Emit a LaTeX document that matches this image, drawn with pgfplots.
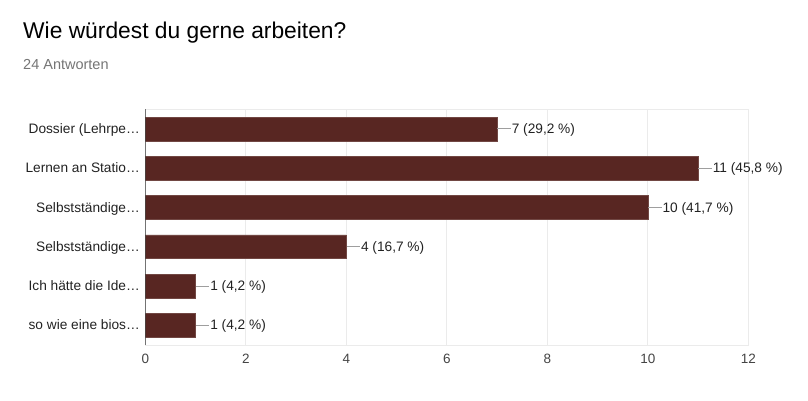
\documentclass[border=0pt]{standalone}
\usepackage{pgfplots}
\pgfplotsset{compat=1.18}
\usepackage{fontspec}
\setmainfont{Liberation Sans}
\definecolor{barbrown}{RGB}{88,38,34}
\definecolor{gridgrey}{RGB}{235,235,235}
\definecolor{leader}{RGB}{158,158,158}
\definecolor{subgrey}{RGB}{117,117,117}
\definecolor{labelgrey}{RGB}{34,34,34}
\definecolor{tickgrey}{RGB}{68,68,68}

\begin{document}
\begin{tikzpicture}
  \useasboundingbox (0,0) rectangle (808pt,400pt);
  % heading
  \node[anchor=base west, inner sep=0pt] at (23pt,362pt)
    {\fontsize{22.8}{27}\selectfont Wie würdest du gerne arbeiten?};
  \node[anchor=base west, inner sep=0pt, text=subgrey] at (23pt,330.7pt)
    {\fontsize{14.5}{17}\selectfont 24 Antworten};
  \begin{axis}[
      at={(145.3pt,55pt)}, anchor=south west,
      scale only axis,
      width=603pt, height=235.7pt,
      xbar, bar width=23.7pt,
      xmin=0, xmax=12,
      ymin=-0.5, ymax=5.5,
      enlargelimits=false,
      y dir=reverse,
      xtick={0,2,...,12},
      ytick={0,...,5},
      yticklabels={Dossier (Lehrpe…, Lernen an Statio…, Selbstständige…,
                   Selbstständige…, Ich hätte die Ide…, so wie eine bios…},
      major tick length=0pt,
      xmajorgrids,
      grid style={gridgrey, line width=1pt},
      axis line style={gridgrey, line width=1pt},
      xticklabel style={font=\fontsize{13.5}{16}\selectfont, text=tickgrey,
                        anchor=north, yshift=-5.4pt},
      yticklabel style={font=\fontsize{13.7}{16}\selectfont, text=labelgrey,
                        anchor=base east, inner sep=0pt, xshift=-5.3pt, yshift=-4.6pt},
      /pgf/number format/assume math mode=true,
      point meta=explicit symbolic,
      nodes near coords={\textcolor{leader}{\rule[4.2pt]{13.5pt}{0.9pt}}\kern1pt\pgfplotspointmeta},
      every node near coord/.append style={font=\fontsize{13.7}{16}\selectfont,
                        text=labelgrey, anchor=base west, inner sep=0pt, yshift=-4.6pt},
    ]
    \addplot[fill=barbrown, draw=barbrown!85!white, line width=0.5pt] coordinates {
      (7,0)  [7 (29,2 \%)]
      (11,1) [11 (45,8 \%)]
      (10,2) [10 (41,7 \%)]
      (4,3)  [4 (16,7 \%)]
      (1,4)  [1 (4,2 \%)]
      (1,5)  [1 (4,2 \%)]
    };
    \draw[black!80, line width=1.2pt] (axis cs:0,-0.5) -- (axis cs:0,5.5);
  \end{axis}
\end{tikzpicture}
\end{document}
